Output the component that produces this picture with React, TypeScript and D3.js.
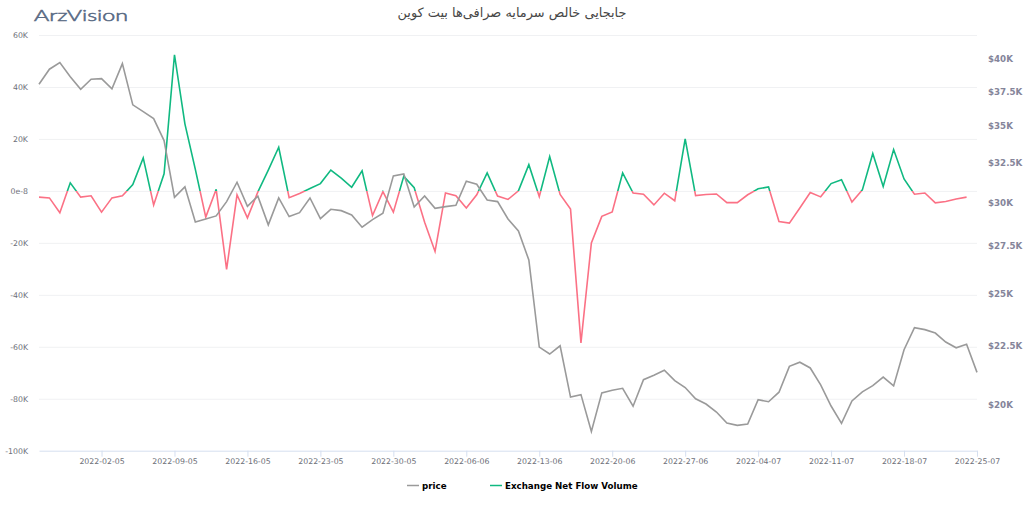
import React, { useEffect, useRef } from "react";
import * as d3 from "d3";

const WIDTH = 1024;
const HEIGHT = 505;

const startDate = "2022-04-26";
const endDate = "2022-07-25";
const xTickDates = [
  "2022-05-02", "2022-05-09", "2022-05-16", "2022-05-23", "2022-05-30", "2022-06-06", "2022-06-13",
  "2022-06-20", "2022-06-27", "2022-07-04", "2022-07-11", "2022-07-18", "2022-07-25",
];
const leftTicks = [60000, 40000, 20000, 0, -20000, -40000, -60000, -80000, -100000];
const rightTicks = [40000, 37500, 35000, 32500, 30000, 27500, 25000, 22500, 20000];

const price = [
  38030, 39190, 39710, 38610, 37650, 38410, 38460, 37680, 39630, 36490,
  36000, 35500, 33970, 30320, 30960, 28860, 29030, 29210, 30060, 31250,
  29780, 30390, 28690, 30280, 29170, 29400, 30280, 29050, 29600, 29520,
  29270, 28560, 28990, 29370, 31650, 31770, 29740, 30400, 29660, 29760,
  29840, 31310, 31120, 30160, 30060, 29030, 28340, 26740, 22460, 22150,
  22520, 20320, 20420, 18970, 20490, 20600, 20680, 19950, 21040, 21230,
  21440, 21000, 20710, 20250, 20040, 19720, 19290, 19200, 19250, 20210,
  20130, 20520, 21610, 21790, 21540, 20820, 19960, 19280, 20160, 20530,
  20790, 21150, 20780, 22340, 23350, 23260, 23100, 22690, 22430, 22590,
  21350,
];

const netFlow = [
  -2400, -2700, -8400, 3100, -2400, -1900, -8200, -2700, -1900, 2400,
  12700, -5400, 6600, 52400, 25800, 8300, -10100, 600, -30200, -1500,
  -10400, -400, 8000, 16800, -2600, -1000, 900, 2800, 8000, 4900,
  1400, 7700, -9500, -300, -8200, 5600, 1200, -12100, -23300, -800,
  -1900, -6600, -1500, 6900, -2000, -3300, 0, 10100, -2200, 13200,
  -1400, -7000, -58500, -20000, -9800, -8100, 6900, -800, -1300, -5400,
  -900, -3800, 20000, -1800, -1400, -1200, -4500, -4500, -1500, 800,
  1500, -11800, -12400, -6600, -600, -2300, 2800, 4300, -4300, 400,
  14400, 1700, 15900, 4600, -1300, -800, -4600, -4100, -3100, -2400,
];

const legendNames = ["price", "Exchange Net Flow Volume"];
const titleText = "جابجایی خالص سرمایه صرافی‌ها بیت کوین";
const logoText = "ArzVision";

const GREY = "#9a9a9a";
const GREEN = "#10b981";
const RED = "#fb7185";
const LOGO = "#5a6b85";
const FONT = "'DejaVu Sans', sans-serif";

const parseDay = d3.utcParse("%Y-%m-%d");
const formatDay = d3.utcFormat("%Y-%d-%m");

function leftLabel(v: number) {
  return v === 0 ? "0e-8" : `${v / 1000}K`;
}
function rightLabel(v: number) {
  return `$${v / 1000}K`;
}

export default function App() {
  const ref = useRef<SVGSVGElement | null>(null);

  useEffect(() => {
    const svg = d3.select(ref.current);
    svg.selectAll("*").remove();

    const plot = { left: 39, right: 977, top: 35, bottom: 450.7 };
    const days = d3.utcDay.range(parseDay(startDate)!, d3.utcDay.offset(parseDay(endDate)!, 1));

    const x = d3.scaleUtc().domain([parseDay(startDate)!, parseDay(endDate)!]).range([plot.left, plot.right]);
    const yLeft = d3.scaleLinear().domain([-100000, 60000]).range([plot.bottom, plot.top]);
    const yRight = d3.scaleLog().domain([18250, 41970]).range([plot.bottom, plot.top]);

    // Clip regions for above/below zero colouring of the flow line
    const defs = svg.append("defs");
    defs.append("clipPath").attr("id", "above")
      .append("rect").attr("x", 0).attr("y", 0).attr("width", WIDTH).attr("height", yLeft(0));
    defs.append("clipPath").attr("id", "below")
      .append("rect").attr("x", 0).attr("y", yLeft(0)).attr("width", WIDTH).attr("height", HEIGHT);

    // Left axis + grid
    const gl = svg.append("g").attr("transform", `translate(${plot.left},0)`)
      .call(d3.axisLeft(yLeft).tickValues(leftTicks).tickFormat((d) => leftLabel(+d)).tickSize(0).tickPadding(11));
    gl.select(".domain").remove();
    gl.selectAll("text").attr("font-family", FONT).attr("font-size", 7.8).attr("fill", "#6e7079");
    gl.selectAll(".tick").filter((d) => d !== -100000).append("line")
      .attr("x1", 0).attr("x2", plot.right - plot.left).attr("stroke", "#f0f1f3").attr("stroke-width", 1);

    // Right axis
    const gr = svg.append("g").attr("transform", `translate(${plot.right},0)`)
      .call(d3.axisRight(yRight).tickValues(rightTicks).tickFormat((d) => rightLabel(+d)).tickSize(0).tickPadding(11));
    gr.select(".domain").remove();
    gr.selectAll("text").attr("font-family", FONT).attr("font-size", 8.7).attr("font-weight", "bold").attr("fill", "#85859a");

    // Bottom axis
    const gb = svg.append("g").attr("transform", `translate(0,${plot.bottom})`)
      .call(d3.axisBottom(x).tickValues(xTickDates.map((d) => parseDay(d)!)).tickFormat((d) => formatDay(d as Date)).tickSize(6).tickPadding(2).tickSizeOuter(0));
    gb.select(".domain").attr("stroke", "#d5dff0").attr("stroke-width", 1);
    gb.selectAll("line").attr("stroke", "#d5dff0");
    gb.selectAll("text").attr("font-family", FONT).attr("font-size", 7.8).attr("fill", "#6e7079");

    // Flow line, green above zero and red below
    const flowLine = d3.line<number>()
      .x((_, i) => x(days[i]))
      .y((d) => yLeft(d));
    svg.append("path").datum(netFlow).attr("d", flowLine).attr("fill", "none")
      .attr("stroke", GREEN).attr("stroke-width", 1.6).attr("clip-path", "url(#above)");
    svg.append("path").datum(netFlow).attr("d", flowLine).attr("fill", "none")
      .attr("stroke", RED).attr("stroke-width", 1.6).attr("clip-path", "url(#below)");

    // Price line
    const priceLine = d3.line<number>()
      .x((_, i) => x(days[i]))
      .y((d) => yRight(d));
    svg.append("path").datum(price).attr("d", priceLine).attr("fill", "none")
      .attr("stroke", GREY).attr("stroke-width", 1.6);

    // Legend
    const legendItems = [
      { name: legendNames[0], color: GREY, x: 407 },
      { name: legendNames[1], color: GREEN, x: 490 },
    ];
    legendItems.forEach((item) => {
      svg.append("line").attr("x1", item.x).attr("x2", item.x + 12).attr("y1", 485.5).attr("y2", 485.5)
        .attr("stroke", item.color).attr("stroke-width", 1.5);
      svg.append("text").attr("x", item.x + 15).attr("y", 485.5).attr("dy", "0.35em")
        .attr("font-family", FONT).attr("font-size", 8.7).attr("font-weight", "bold").attr("fill", "#000")
        .text(item.name);
    });

    // Title
    svg.append("text").attr("x", 512).attr("y", 17).attr("text-anchor", "middle")
      .attr("font-family", FONT).attr("font-size", 12.9).attr("fill", "#464646").text(titleText);

    // Logo
    svg.append("text").attr("x", 34).attr("y", 20.5)
      .attr("font-family", "Lato, sans-serif").attr("font-size", 16).attr("font-weight", 300)
      .attr("textLength", 94).attr("lengthAdjust", "spacingAndGlyphs")
      .attr("fill", LOGO).attr("stroke", LOGO).attr("stroke-width", 0.55).text(logoText);
  }, []);

  return (
    <svg
      ref={ref}
      width={WIDTH}
      height={HEIGHT}
      style={{ position: "absolute", left: 0, top: 0, background: "#fff" }}
    />
  );
}
